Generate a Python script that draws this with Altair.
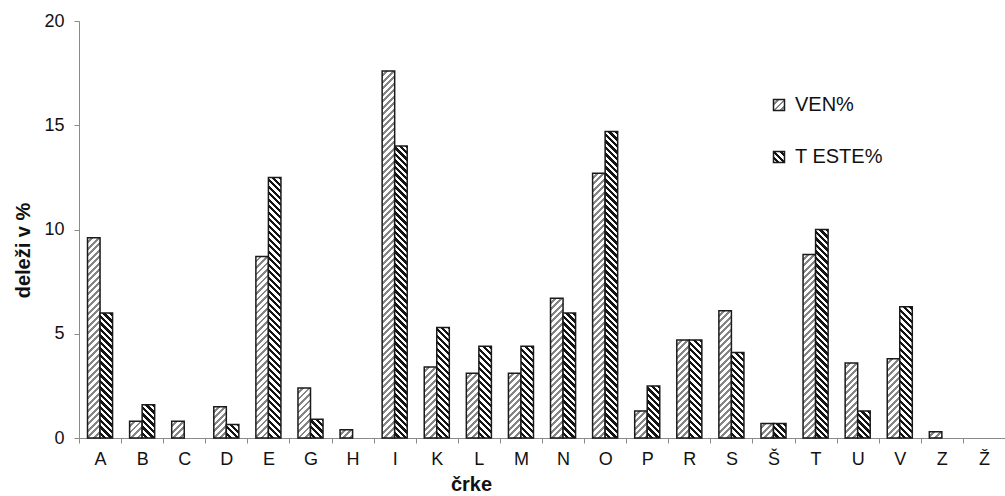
import altair as alt

# ---- data ----
letters = ["A", "B", "C", "D", "E", "G", "H", "I", "K", "L", "M",
           "N", "O", "P", "R", "S", "Š", "T", "U", "V", "Z", "Ž"]
ven = [9.6, 0.8, 0.8, 1.5, 8.7, 2.4, 0.4, 17.6, 3.4, 3.1, 3.1,
       6.7, 12.7, 1.3, 4.7, 6.1, 0.7, 8.8, 3.6, 3.8, 0.3, 0.0]
teste = [6.0, 1.6, 0.0, 0.65, 12.5, 0.9, 0.0, 14.0, 5.3, 4.4, 4.4,
         6.0, 14.7, 2.5, 4.7, 4.1, 0.7, 10.0, 1.3, 6.3, 0.0, 0.0]
series = ["VEN%", "T ESTE%"]

# ---- layout / style ----
W, H = 926, 417
YMAX = 20
BAND = W / len(letters)
PAD_OUT = 0.68
BAR_W = BAND / (2 + 2 * PAD_OUT)
PERIOD = 6.5
DUTY = {"VEN%": 0.45, "T ESTE%": 0.5}
INK = {"VEN%": "#858585", "T ESTE%": "#141414"}
PAPER = "#ffffff"
FONT = "Liberation Sans"


def stops_for(total, s):
    out = []
    pos = 0.0
    ink_len = PERIOD * DUTY[s]
    paper_len = PERIOD - ink_len
    while pos < total:
        a = round(min(1.0, pos / total), 4)
        b = round(min(1.0, (pos + paper_len) / total), 4)
        c = round(min(1.0, (pos + PERIOD) / total), 4)
        out += [{"offset": a, "color": PAPER}, {"offset": b, "color": PAPER},
                {"offset": b, "color": INK[s]}, {"offset": c, "color": INK[s]}]
        pos += PERIOD
    return out


def hatch(w, h, s):
    k = (w + h) / (w * w + h * h)
    g = {"gradient": "linear", "stops": stops_for(w + h, s)}
    if s == "VEN%":
        g.update(x1=0, y1=0, x2=round(k * w, 5), y2=round(k * h, 5))
    else:
        g.update(x1=0, y1=1, x2=round(k * w, 5), y2=round(1 - k * h, 5))
    return g


records = []
for i, L in enumerate(letters):
    for s, vals in zip(series, [ven, teste]):
        v = vals[i]
        h = max(v * H / YMAX, 1.0)
        records.append({"letter": L, "series": s, "value": v,
                        "grad": hatch(BAR_W, h, s)})


def legend_expr(s, size=11):
    st = stops_for(2 * size, s)
    st_txt = ",".join("{offset:%s,color:'%s'}" % (d["offset"], d["color"]) for d in st)
    if s == "VEN%":
        coords = "x1:0,y1:0,x2:1,y2:1"
    else:
        coords = "x1:0,y1:1,x2:1,y2:0"
    return "{gradient:'linear'," + coords + ",stops:[" + st_txt + "]}"


data = alt.Data(values=records)

bars = alt.Chart(data).transform_filter("datum.value > 0").mark_bar(
    stroke="#1a1a1a", strokeWidth=1.5
).encode(
    x=alt.X("letter:N", sort=letters,
            scale=alt.Scale(domain=letters, paddingInner=0, paddingOuter=0),
            axis=alt.Axis(labelAngle=0, tickSize=5, tickOffset=-BAND / 2,
                          labelOffset=BAND / 2, labelPadding=7,
                          domainColor="#8a8a8a", tickColor="#8a8a8a",
                          labelFont=FONT, labelFontSize=18, labelColor="#111",
                          title="črke", titleFont=FONT, titleFontSize=20,
                          titleFontWeight="bold", titleColor="#111",
                          titleX=392, titleY=52, titleAlign="center",
                          titleBaseline="alphabetic")),
    xOffset=alt.XOffset("series:N", sort=series,
                        scale=alt.Scale(domain=series, paddingInner=0,
                                        paddingOuter=PAD_OUT)),
    y=alt.Y("value:Q", scale=alt.Scale(domain=[0, YMAX], nice=False),
            axis=alt.Axis(values=[0, 5, 10, 15, 20], grid=False, tickSize=5,
                          labelPadding=10, domainColor="#8a8a8a",
                          tickColor="#8a8a8a", labelFont=FONT,
                          labelFontSize=18, labelColor="#111",
                          title="deleži v %", titleFont=FONT, titleFontSize=20,
                          titleFontWeight="bold", titleColor="#111",
                          titleX=-50, titleY=229, titleAngle=270,
                          titleAlign="center", titleBaseline="alphabetic")),
    fill=alt.Fill("grad:N", scale=None),
)

legend_layer = alt.Chart(data).transform_filter("false").mark_bar(
    stroke="#1a1a1a", strokeWidth=1.5
).encode(
    color=alt.Color("series:N",
                    scale=alt.Scale(domain=series,
                                    range=[{"expr": legend_expr(s)} for s in series]),
                    legend=alt.Legend(orient="none", legendX=690, legendY=74,
                                      title=None, symbolType="square",
                                      symbolSize=121, labelFont=FONT,
                                      labelFontSize=20, labelColor="#111",
                                      labelOffset=6, rowPadding=32, padding=0,
                                      symbolStrokeColor="#1a1a1a",
                                      symbolStrokeWidth=1.5, symbolOpacity=1))
)

chart = alt.layer(bars, legend_layer).properties(
    width=W, height=H,
    autosize=alt.AutoSizeParams(type="none"),
    padding={"left": 79, "top": 21, "right": 0, "bottom": 58},
    background="white",
).configure_view(stroke=None)

chart.save("out.html", embed_options={"renderer": "svg", "actions": False})
